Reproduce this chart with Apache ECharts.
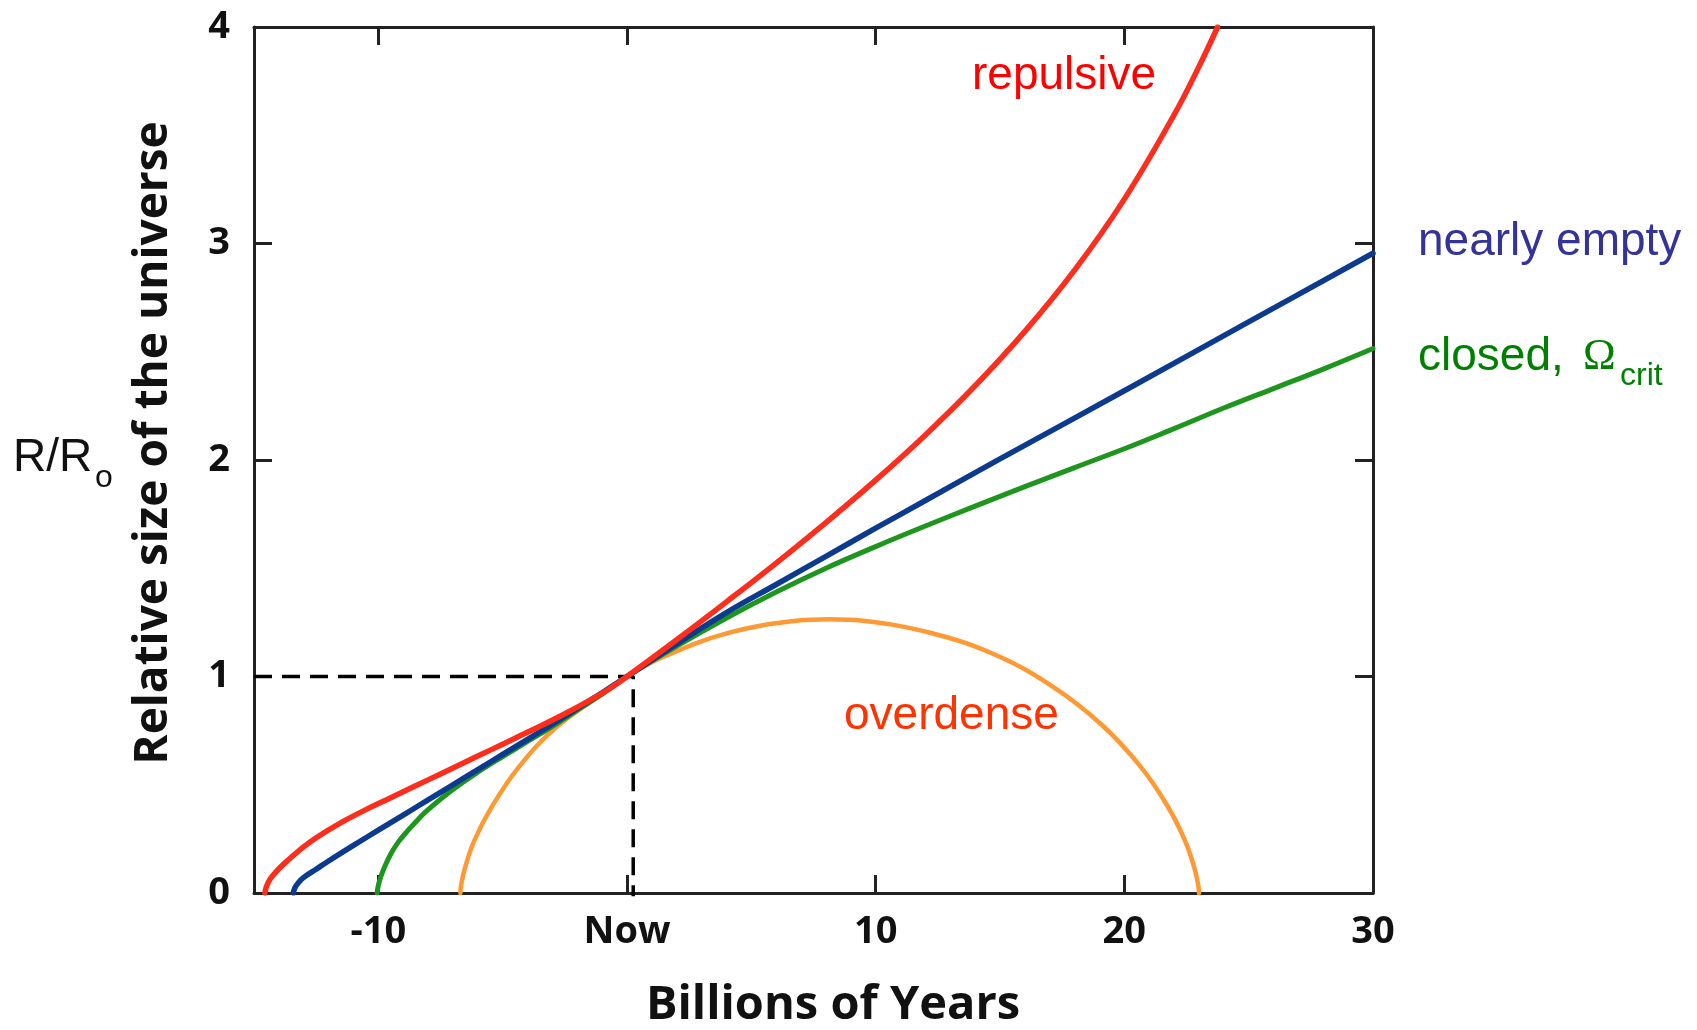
<!DOCTYPE html>
<html><head><meta charset="utf-8">
<script src="https://cdn.jsdelivr.net/npm/echarts@6/dist/echarts.min.js"></script>
<style>html,body{margin:0;padding:0;background:#fff}#c{width:1697px;height:1030px}</style>
</head><body><div id="c"></div>
<script>
// ---- data ----
const xTicks = [-10, 0, 10, 20, 30];
const xTickLabels = ['-10', 'Now', '10', '20', '30'];
const yTicks = [0, 1, 2, 3, 4];

const repulsive = [[-14.56,0],[-14.5,0.03],[-14.35,0.065],[-14.1,0.1],[-13.7,0.145],[-13.2,0.195],[-12.5,0.255],[-11.5,0.325],[-10.5,0.385],[-9.5,0.44],[-8.5,0.495],[-7.5,0.55],[-6.5,0.605],[-5.5,0.66],[-4.5,0.715],[-3.5,0.77],[-2.5,0.828],[-1.5,0.89],[-0.75,0.94],[0,1.0],[2,1.17],[4,1.345],[6,1.524],[8,1.711],[10,1.907],[12,2.116],[14,2.343],[16,2.594],[18,2.877],[20,3.205],[22,3.594],[23,3.817],[23.75,4.0]];
const nearlyEmpty = [[-13.42,0],[-13.35,0.025],[-13.2,0.05],[-13,0.072],[-12.5,0.11],[-12,0.148],[-11,0.22],[-10,0.29],[-9,0.36],[-8,0.43],[-7,0.5],[-6,0.57],[-5,0.64],[-4,0.71],[-3,0.78],[-2,0.852],[-1,0.925],[0,1.0],[2,1.15],[4,1.295],[6,1.425],[8,1.555],[10,1.685],[12,1.813],[15,2.005],[20,2.32],[25,2.638],[30,2.955]];
const closedCrit = [[-10.05,0],[-10.0,0.035],[-9.9,0.075],[-9.75,0.12],[-9.5,0.18],[-9.2,0.235],[-8.8,0.29],[-8.4,0.34],[-8,0.385],[-7,0.478],[-6,0.558],[-5,0.63],[-4,0.7],[-3,0.77],[-2,0.845],[-1,0.92],[0,1.0],[2,1.14],[4,1.27],[6,1.39],[8,1.5],[10,1.6],[12,1.695],[14,1.787],[16,1.877],[18,1.965],[20,2.052],[22,2.145],[24,2.24],[26,2.33],[28,2.42],[30,2.515]];
const overdense = [[-6.7,0],[-6.68,0.03],[-6.53,0.11],[-6.15,0.24],[-5.43,0.4],[-4.33,0.585],[-2.8,0.77],[-0.85,0.93],[0,1.0],[1.45,1.09],[4.04,1.2],[6.81,1.257],[8.15,1.264],[9.49,1.257],[12.26,1.2],[14.85,1.098],[17.15,0.951],[19.1,0.776],[20.63,0.587],[21.73,0.403],[22.45,0.239],[22.83,0.11],[22.98,0.03],[23.0,0]];
const nowGuide = [[-15,1],[0.25,1],[0.25,-0.015]];

// ---- chart ----
const chart = echarts.init(document.getElementById('c'));
const axisCol = '#222';
const tickFont = {fontFamily: 'Open Sans', fontWeight: 'bold', fontSize: 38, color: '#111'};
function lineSeries(name, data, color, width, z) {
  return {name, type: 'line', data, showSymbol: false, smooth: 0.4,
    lineStyle: {color, width, cap: 'round', join: 'round'}, z, silent: true};
}
chart.setOption({
  animation: false,
  backgroundColor: '#fff',
  grid: {left: 254, right: 324, top: 27, bottom: 137},
  xAxis: [
    {type: 'value', min: -15, max: 30, interval: 5, position: 'bottom',
     axisLine: {onZero: false, lineStyle: {color: axisCol, width: 3}},
     axisTick: {inside: true, length: 18, customValues: xTicks, lineStyle: {color: axisCol, width: 3}},
     axisLabel: Object.assign({customValues: xTicks, margin: 20,
       formatter: v => xTickLabels[xTicks.indexOf(v)] ?? ''}, tickFont),
     splitLine: {show: false}},
    {type: 'value', min: -15, max: 30, interval: 5, position: 'top',
     axisLine: {onZero: false, lineStyle: {color: axisCol, width: 3}},
     axisTick: {inside: true, length: 18, customValues: xTicks, lineStyle: {color: axisCol, width: 3}},
     axisLabel: {show: false}, splitLine: {show: false}}
  ],
  yAxis: [
    {type: 'value', min: 0, max: 4, interval: 1, position: 'left',
     axisLine: {show: true, onZero: false, lineStyle: {color: axisCol, width: 3}},
     axisTick: {show: true, inside: true, length: 18, customValues: yTicks, lineStyle: {color: axisCol, width: 3}},
     axisLabel: Object.assign({customValues: yTicks, margin: 24}, tickFont),
     splitLine: {show: false}},
    {type: 'value', min: 0, max: 4, interval: 1, position: 'right',
     axisLine: {show: true, onZero: false, lineStyle: {color: axisCol, width: 3}},
     axisTick: {show: true, inside: true, length: 18, customValues: yTicks, lineStyle: {color: axisCol, width: 3}},
     axisLabel: {show: false}, splitLine: {show: false}}
  ],
  series: [
    {name: 'now', type: 'line', data: nowGuide, showSymbol: false, clip: false, silent: true, z: 1,
     lineStyle: {color: '#000', width: 3.5, type: [18, 10]}},
    lineSeries('overdense', overdense, '#ff9933', 4.5, 2),
    lineSeries('closed', closedCrit, '#1e961e', 5, 3),
    lineSeries('nearly empty', nearlyEmpty, '#0b3a8e', 5.5, 4),
    lineSeries('repulsive', repulsive, '#ff2d1c', 5.5, 5)
  ],
  graphic: [
    {type: 'text', x: 13, y: 458, style: {text: 'R/R', font: '46px "Liberation Sans", Arial', fill: '#111', align: 'left', verticalAlign: 'middle'}},
    {type: 'text', x: 95, y: 478, style: {text: 'o', font: '32px "Liberation Sans", Arial', fill: '#111', align: 'left', verticalAlign: 'middle'}},
    {type: 'text', x: 154, y: 443, rotation: Math.PI / 2, style: {text: 'Relative size of the universe', font: 'bold 46px "Open Sans"', fill: '#111', align: 'center', verticalAlign: 'middle'}},
    {type: 'text', x: 833, y: 1006, style: {text: 'Billions of Years', font: 'bold 47px "Open Sans"', fill: '#111', align: 'center', verticalAlign: 'middle'}},
    {type: 'text', x: 972, y: 76, style: {text: 'repulsive', font: '46px "Liberation Sans", Arial', fill: '#ff0000', align: 'left', verticalAlign: 'middle'}},
    {type: 'text', x: 844, y: 716, style: {text: 'overdense', font: '46px "Liberation Sans", Arial', fill: '#ff3300', align: 'left', verticalAlign: 'middle'}},
    {type: 'text', x: 1418, y: 242, style: {text: 'nearly empty', font: '46px "Liberation Sans", Arial', fill: '#333399', align: 'left', verticalAlign: 'middle'}},
    {type: 'text', x: 1418, y: 357, style: {text: 'closed,', font: '46px "Liberation Sans", Arial', fill: '#008000', align: 'left', verticalAlign: 'middle'}},
    {type: 'text', x: 1583, y: 357, style: {text: 'Ω', font: '44px "Liberation Serif", serif', fill: '#008000', align: 'left', verticalAlign: 'middle'}},
    {type: 'text', x: 1620, y: 376, style: {text: 'crit', font: '32px "Liberation Sans", Arial', fill: '#008000', align: 'left', verticalAlign: 'middle'}}
  ]
});
</script>
</body></html>
